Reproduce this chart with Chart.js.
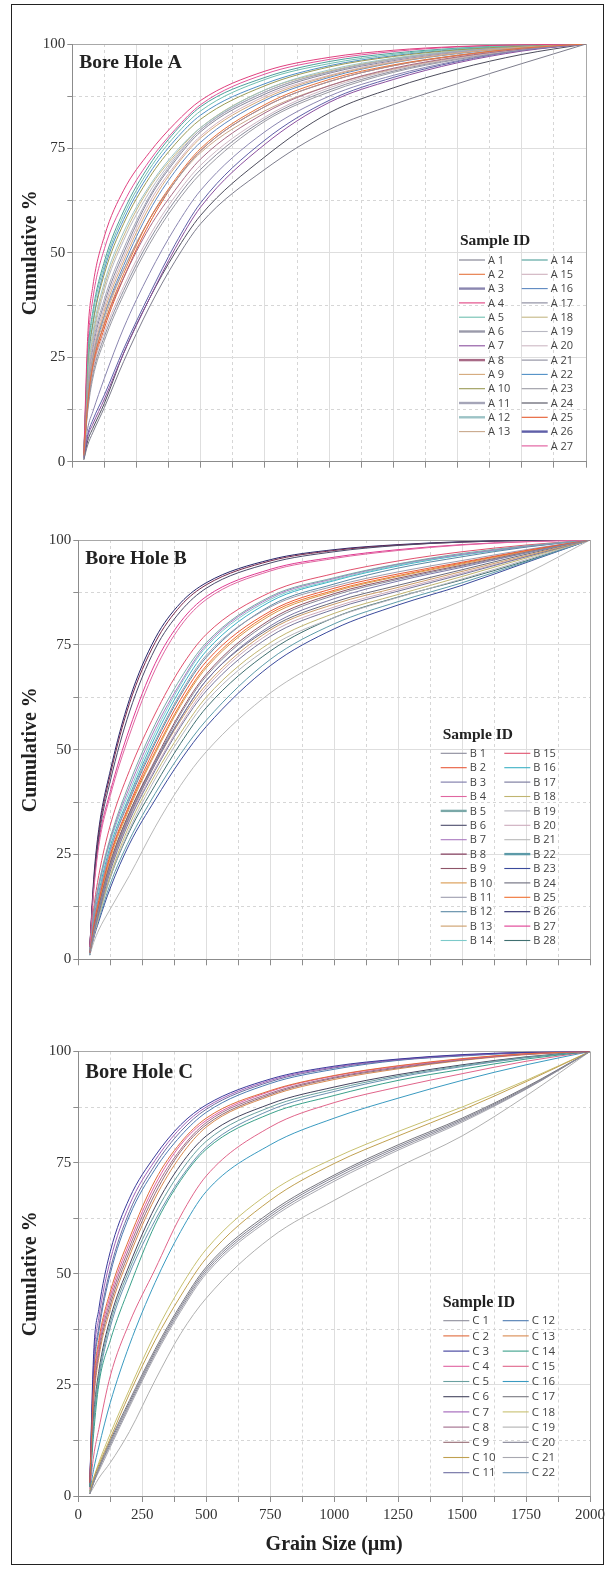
<!DOCTYPE html>
<html>
<head>
<meta charset="utf-8">
<script src="https://cdn.jsdelivr.net/npm/chart.js@4.4.1/dist/chart.umd.min.js"></script>
<style>
  body { margin: 0; background: #fff; }
  #page { position: relative; width: 611px; height: 1569px; overflow: hidden; }
  #frame { position: absolute; left: 11px; top: 4px; width: 593px; height: 1561px; border: 1.5px solid #222; box-sizing: border-box; }
  canvas { position: absolute; left: 0; }
</style>
</head>
<body>
<div id="page">
  <div id="frame"></div>
  <canvas id="chartA" width="611" height="500" style="top:0px"></canvas>
  <canvas id="chartB" width="611" height="500" style="top:500px"></canvas>
  <canvas id="chartC" width="611" height="569" style="top:1000px"></canvas>
</div>
<script>
// grain size (µm) at which each curve was read
const grainSize = [45, 60, 80, 125, 200, 300, 400, 500, 750, 1000, 1250, 1500, 1750, 2000];

// ---- Bore hole A ----
const samplesA = ['A 1','A 2','A 3','A 4','A 5','A 6','A 7','A 8','A 9','A 10','A 11','A 12','A 13',
                  'A 14','A 15','A 16','A 17','A 18','A 19','A 20','A 21','A 22','A 23','A 24','A 25','A 26','A 27'];
const cumulativeA = [
  [0.5, 4, 7, 13, 24, 37, 48, 57, 70, 79.5, 85.5, 90.5, 95.3, 100],    // A 1
  [1.5, 14, 23, 33, 45, 58, 67.5, 75, 85.5, 91.5, 95, 97.3, 99, 100],  // A 2
  [1, 8, 12, 20, 32, 45, 56, 65, 79, 87.5, 92.5, 96, 98.5, 100],       // A 3
  [2, 30, 42, 54, 65, 74, 81, 86.5, 93.5, 96.8, 98.5, 99.4, 99.8, 100],// A 4
  [2, 24, 35, 47, 59, 70, 78, 84, 91.5, 95.3, 97.5, 98.9, 99.7, 100],  // A 5
  [1.5, 16, 25, 35, 46, 58, 67, 74.5, 85, 91, 94.8, 97.3, 99, 100],    // A 6
  [1, 6, 9, 15, 26, 39, 51, 61, 76, 86, 91.5, 95.5, 98.3, 100],        // A 7
  [1.5, 14, 23, 33, 44, 56, 65, 72.5, 83.5, 90, 94.2, 96.9, 98.8, 100],// A 8
  [1.5, 16, 25, 36, 48, 61, 70.5, 77.5, 87, 92.3, 95.6, 97.8, 99.2, 100], // A 9
  [2, 23, 33, 45, 57, 68, 76, 82, 90, 94.5, 97, 98.6, 99.5, 100],      // A 10
  [1.5, 18, 28, 39, 51, 63.5, 72.5, 79.5, 88.5, 93.3, 96.3, 98.2, 99.4, 100], // A 11
  [2, 21, 31, 43, 55, 66, 74, 80, 89, 93.8, 96.6, 98.4, 99.5, 100],    // A 12
  [1.5, 15, 24, 34, 46, 58, 67, 74, 84, 90, 94, 96.8, 98.8, 100],      // A 13
  [2, 25, 36, 48, 60, 71, 79, 85, 92, 95.8, 97.8, 99, 99.7, 100],      // A 14
  [1.5, 17, 26, 37, 49, 62, 71, 78, 87.5, 92.5, 95.8, 97.9, 99.3, 100],// A 15
  [1.5, 15, 24, 35, 47, 60, 69.5, 76.5, 86.5, 92, 95.5, 97.7, 99.2, 100], // A 16
  [1.5, 17, 27, 38, 50, 63, 72, 79, 88, 93, 96, 98, 99.3, 100],        // A 17
  [2, 20, 30, 42, 54, 65.5, 73.5, 80, 89, 93.5, 96.5, 98.3, 99.4, 100],// A 18
  [2, 19, 29, 41, 53, 64.5, 73, 79.5, 88.5, 93.3, 96.3, 98.2, 99.4, 100], // A 19
  [1.5, 14, 22, 31, 42, 54, 63.5, 71, 82.5, 89.5, 93.8, 96.6, 98.7, 100], // A 20
  [1.5, 13, 21, 30, 41, 53, 62.5, 70, 82, 89, 93.5, 96.5, 98.6, 100],  // A 21
  [2, 22, 33, 46, 58, 69, 77, 83, 90.5, 94.8, 97.2, 98.7, 99.6, 100],  // A 22
  [1.5, 12, 20, 29, 40, 52, 61.5, 69, 81.5, 88.5, 93.2, 96.3, 98.5, 100], // A 23
  [0.5, 5, 8, 14, 26, 39, 50, 59, 73, 83.5, 89.5, 94, 97.5, 100],      // A 24
  [1.5, 13, 22, 32, 44, 57, 67, 74.5, 85, 91, 94.8, 97.2, 99, 100],    // A 25
  [1, 6.5, 10, 16, 27, 40, 52, 62, 77, 86.5, 92, 95.8, 98.5, 100],     // A 26
  [2, 27, 39, 51, 62, 72, 79.5, 85.5, 92.8, 96.3, 98.2, 99.3, 99.8, 100] // A 27
];

// ---- Bore hole B ----
const samplesB = ['B 1','B 2','B 3','B 4','B 5','B 6','B 7','B 8','B 9','B 10','B 11','B 12','B 13','B 14',
                  'B 15','B 16','B 17','B 18','B 19','B 20','B 21','B 22','B 23','B 24','B 25','B 26','B 27','B 28'];
const cumulativeB = [
  [1.5, 6.5, 12, 22.5, 34.5, 47, 58.5, 67.5, 80.5, 86.8, 90.6, 93.8, 97, 100],   // B 1
  [1.5, 8, 14, 25, 37, 50.5, 62, 71, 83, 88.5, 91.9, 94.7, 97.5, 100],           // B 2
  [1.5, 6, 11.5, 22, 34, 46.5, 57.5, 66.5, 79.5, 86, 90.2, 93.5, 96.9, 100],     // B 3
  [3, 16, 27, 39, 53.5, 69, 79.5, 85.8, 92.6, 95.6, 97.5, 98.8, 99.6, 100],      // B 4
  [2, 11, 18, 29, 42, 56, 67, 75.5, 86.5, 91, 94.3, 96.8, 98.6, 100],            // B 5
  [3, 17, 29, 42.5, 59, 74, 83, 88.5, 94.5, 97.2, 98.7, 99.5, 99.9, 100],        // B 6
  [2, 10.5, 17.5, 28.5, 41, 55, 66, 75, 86.2, 90.8, 94.2, 96.6, 98.5, 100],      // B 7
  [3, 18, 30, 44, 61, 75.5, 84.3, 89.3, 95, 97.5, 98.8, 99.5, 99.9, 100],        // B 8
  [1.5, 7, 12.5, 23, 35, 47.5, 59, 68, 81, 87.2, 90.9, 94, 97.1, 100],           // B 9
  [1.5, 7, 13, 24, 36, 49, 60.5, 69.5, 82, 87.7, 91.3, 94.3, 97.3, 100],         // B 10
  [1.5, 8.5, 15, 26, 38.5, 52, 63.5, 72.5, 84, 89, 92.4, 95.1, 97.7, 100],       // B 11
  [2, 9, 15, 26, 38, 51.5, 63, 72, 84.3, 89.5, 93.3, 96, 98.3, 100],             // B 12
  [1.5, 6.5, 12, 22, 34, 46.5, 57, 65.5, 78.5, 84.7, 88.7, 92.5, 96.3, 100],     // B 13
  [2, 10, 17, 28, 40, 54, 65.5, 74.5, 85.8, 90.5, 94, 96.5, 98.5, 100],          // B 14
  [2.5, 12, 20, 32, 45, 58.5, 69.5, 77.5, 87.5, 92, 95, 97.2, 98.8, 100],        // B 15
  [2, 9.5, 16, 27, 39, 53, 64.5, 73.5, 85.3, 90.3, 93.8, 96.4, 98.4, 100],       // B 16
  [1.5, 6, 11, 21, 33, 45, 55.5, 64, 77, 83.5, 87.8, 91.8, 96, 100],             // B 17
  [1.5, 5.5, 10.5, 20, 32, 44, 54, 62.5, 75.5, 82.5, 87, 91.3, 95.7, 100],       // B 18
  [1.5, 5.5, 10, 19.5, 31, 43, 53, 61.5, 74.5, 81.5, 86.3, 90.7, 95.3, 100],     // B 19
  [1.5, 6, 11.5, 21.5, 33.5, 45.5, 56, 64.8, 77.8, 84, 88.2, 92.1, 96.1, 100],   // B 20
  [1, 4, 7, 12, 20, 31.5, 41.5, 49.5, 63.5, 72.5, 79.5, 85.5, 92, 100],          // B 21
  [1, 5.5, 9.5, 18, 28.5, 39.5, 49, 57, 71.5, 80, 85.3, 89.8, 94.8, 100],        // B 22
  [1, 5, 9, 17, 27.5, 38, 47.5, 55.5, 70, 78.8, 84.5, 89.2, 94.6, 100],          // B 23
  [1.5, 7, 12.5, 23, 35, 47, 57.5, 66.5, 79, 85.2, 89.2, 92.9, 96.6, 100],       // B 24
  [1.5, 7.5, 13.5, 24.5, 36.5, 49.5, 61, 70, 82.5, 88, 91.5, 94.5, 97.4, 100],   // B 25
  [3, 19, 31, 45, 62, 76.5, 85, 89.8, 95.3, 97.7, 98.9, 99.6, 99.9, 100],        // B 26
  [3, 17, 28, 40, 55, 70.5, 80.5, 86.5, 93, 95.9, 97.7, 98.9, 99.6, 100],        // B 27
  [1, 6, 10.5, 19.5, 30.5, 41.5, 51.5, 60, 73.5, 81.5, 86.4, 90.5, 95, 100]      // B 28
];

// ---- Bore hole C ----
const samplesC = ['C 1','C 2','C 3','C 4','C 5','C 6','C 7','C 8','C 9','C 10','C 11',
                  'C 12','C 13','C 14','C 15','C 16','C 17','C 18','C 19','C 20','C 21','C 22'];
const cumulativeC = [
  [0.5, 3, 6, 11.5, 20.5, 32, 42, 50.5, 62.8, 71.3, 78.2, 84.4, 91.6, 100],  // C 1
  [3, 25, 35, 46, 58, 71, 79.5, 85, 91.2, 94.6, 96.8, 98.4, 99.5, 100],      // C 2
  [3, 32, 42, 55, 67, 76.5, 83.5, 88, 93.8, 96.7, 98.3, 99.3, 99.8, 100],    // C 3
  [3, 24, 34, 45, 57, 70, 79, 84.5, 91, 94.5, 96.7, 98.3, 99.5, 100],        // C 4
  [2, 17, 27, 39, 51, 63.5, 73, 79.8, 87.5, 91.5, 94.5, 96.8, 98.7, 100],    // C 5
  [2, 18, 28, 40, 52, 65, 74.5, 81, 88.2, 92, 94.8, 97, 98.8, 100],          // C 6
  [3, 30, 40, 53, 65.5, 75.5, 82.8, 87.5, 93.5, 96.5, 98.2, 99.2, 99.8, 100],// C 7
  [3, 23, 33, 44, 56, 69, 78, 84, 90.6, 94.2, 96.5, 98.2, 99.4, 100],        // C 8
  [3, 22, 32, 43, 55, 68, 77.5, 83.5, 90.3, 94, 96.3, 98.1, 99.4, 100],      // C 9
  [1, 4, 7, 13, 23, 35, 45, 53.5, 66.5, 74.8, 81, 86.8, 93.2, 100],          // C 10
  [3, 28, 38, 51, 64, 74.5, 82, 87, 93.2, 96.3, 98.1, 99.1, 99.8, 100],      // C 11
  [3, 27, 37, 50, 63, 73.5, 81, 86.3, 92.8, 96, 98, 99, 99.7, 100],          // C 12
  [3, 21, 31, 42, 54, 67, 76.5, 83, 90, 93.7, 96.1, 98, 99.3, 100],          // C 13
  [2, 14, 25, 35, 47, 61, 71, 78, 86, 90.1, 93.5, 96, 98.3, 100],            // C 14
  [1.5, 9, 15, 27, 39, 51, 63, 72, 83, 88.5, 92, 95, 97.8, 100],             // C 15
  [1, 6, 11, 21, 34, 48, 59.5, 68.5, 79, 85, 89.5, 93.5, 97, 100],           // C 16
  [0.5, 3.5, 6.5, 12.5, 21.5, 33, 43, 51.5, 63.8, 72.2, 79, 85, 92, 100],    // C 17
  [1, 4, 7.5, 14, 24, 36.5, 47, 55.5, 68.3, 76, 82, 87.5, 93.5, 100],        // C 18
  [0.5, 2, 4, 7.5, 14.5, 26, 36.5, 44.5, 58, 66.5, 74, 81, 90, 100],         // C 19
  [0.5, 3, 6, 12, 21, 32.5, 42.5, 51, 63.3, 71.8, 78.6, 84.7, 91.8, 100],    // C 20
  [0.5, 3, 5.5, 11, 20, 31.5, 41.5, 50, 62.3, 70.8, 77.8, 84.1, 91.5, 100],  // C 21
  [2, 16, 26, 38, 50, 62, 71.5, 78.5, 86.8, 91, 94.2, 96.6, 98.6, 100]       // C 22
];

// line colours, in sample order
const coloursA = ['#7d7d8c','#e5743f','#8a86b0','#e0407f','#6fbfb0','#9a9aaa','#8a4f9e','#a86a86','#d4a87a',
  '#9a9a55','#a5a5b8','#9cc3c6','#c9a88c','#4d9f9a','#cfb0bd','#5b87c0','#86869a','#c4b784','#b8b8c2',
  '#cdb8c4','#8c8c9c','#4f8fc6','#9a9aa3','#4d4d5c','#e55a2e','#5f5fa8','#e0569a'];
const coloursB = ['#8a8a9a','#e85a3a','#7a78a8','#e066a0','#7aa8a8','#4a4a6a','#a978c0','#7a2a4e','#8e5468',
  '#d8984c','#9c9cae','#5a88a4','#cc9c68','#7ccaca','#e0506c','#3ab0c4','#74749a','#c0b470','#b4b4bc',
  '#ccaabc','#b8b8b8','#5c9aa8','#3a4a9c','#6a6a7a','#f07030','#26266a','#e03a92','#3f6f70'];
const coloursC = ['#8c8c9a','#e06a3a','#3a3a9a','#e060a0','#6aa0a0','#44445e','#a060b8','#a06a8a','#946a72',
  '#c0a050','#6c6ca0','#4c7ab0','#d88a50','#3aa08a','#e0648a','#3a9ac0','#787880','#c8c070','#b0b0b0',
  '#808090','#a8a8b0','#6a90b0'];
// legend swatches drawn thicker in the original
const thickSwatch = ['A 3','A 6','A 8','A 11','A 12','A 26','B 5','B 22'];

const SERIF = '"Liberation Serif", "Times New Roman", serif';

// "Bore Hole X" label inside the plot area
const boreTitle = {
  id: 'boreTitle',
  afterDraw(chart, args, o) {
    const ctx = chart.ctx, a = chart.chartArea;
    ctx.save();
    ctx.font = 'bold ' + o.size + 'px ' + SERIF;
    ctx.fillStyle = '#222';
    ctx.textBaseline = 'alphabetic';
    ctx.fillText(o.text, a.left + o.dx, a.top + o.dy);
    ctx.restore();
  }
};

// two-column "Sample ID" legend
const sampleLegend = {
  id: 'sampleLegend',
  afterDraw(chart, args, o) {
    const ctx = chart.ctx;
    const ds = chart.data.datasets;
    ctx.save();
    ctx.fillStyle = '#222';
    ctx.font = 'bold ' + o.titleSize + 'px ' + SERIF;
    ctx.textBaseline = 'alphabetic';
    ctx.fillText('Sample ID', o.titleX, o.titleY);
    ctx.font = o.fontSize + 'px "Open Sans", sans-serif';
    ctx.textBaseline = 'middle';
    ds.forEach((d, i) => {
      const col = i < o.perCol ? 0 : 1;
      const row = col ? i - o.perCol : i;
      const x = o.x + col * o.colGap;
      const y = o.y + row * o.rowH;
      ctx.strokeStyle = d.borderColor;
      ctx.lineWidth = thickSwatch.includes(d.label) ? 2.4 : 1.1;
      ctx.beginPath();
      ctx.moveTo(x, y);
      ctx.lineTo(x + o.swatch, y);
      ctx.stroke();
      ctx.fillStyle = '#444';
      ctx.fillText(d.label, x + o.swatch + 3, y + 0.5);
    });
    ctx.restore();
  }
};

function gridColour(c) {
  if (!c.tick) return '#dcdcdc';
  return c.tick.value % 250 === 0 ? '#dedede' : '#d6d6d6';
}

function makeChart(id, boreText, samples, values, colours, lay) {
  const datasets = samples.map((s, i) => ({
    label: s,
    data: grainSize.map((g, j) => ({ x: g, y: values[i][j] })),
    borderColor: colours[i],
    borderWidth: 1,
    pointRadius: 0,
    cubicInterpolationMode: 'monotone',
    fill: false
  }));

  return new Chart(document.getElementById(id), {
    type: 'line',
    data: { datasets },
    options: {
      responsive: false,
      animation: false,
      events: [],
      layout: { padding: { top: lay.top, right: lay.right, left: 0, bottom: 0 } },
      plugins: {
        legend: { display: false },
        tooltip: { enabled: false },
        boreTitle: { text: boreText, size: lay.boreSize, dx: 7, dy: lay.boreDy },
        sampleLegend: lay.legend
      },
      scales: {
        x: {
          type: 'linear',
          min: 0,
          max: 2000,
          afterFit: s => { s.height = lay.xHeight; },
          ticks: {
            stepSize: 125,
            autoSkip: false,
            maxRotation: 0,
            padding: 4,
            color: '#333',
            font: { family: SERIF, size: 15 },
            callback: v => (lay.showX && v % 250 === 0) ? v : ''
          },
          grid: {
            color: c => (c.tick && c.tick.value === 2000) ? '#a8a8a8' : gridColour(c),
            tickColor: '#8c8c8c',
            tickLength: 6
          },
          border: {
            color: '#8c8c8c',
            dash: c => (c.tick && c.tick.value % 250 !== 0 && c.tick.value !== 2000) ? [3, 3] : []
          },
          title: {
            display: lay.showX,
            text: 'Grain Size (µm)',
            color: '#222',
            font: { family: SERIF, size: 20, weight: 'bold' },
            padding: { bottom: lay.xTitlePad }
          }
        },
        y: {
          min: 0,
          max: 100,
          afterFit: s => { s.width = lay.yWidth; },
          ticks: {
            stepSize: 12.5,
            autoSkip: false,
            padding: 2,
            color: '#333',
            font: { family: SERIF, size: 15 },
            callback: v => v % 25 === 0 ? v : ''
          },
          grid: {
            color: c => (c.tick && c.tick.value === 100) ? '#a8a8a8' : (c.tick && c.tick.value % 25 === 0 ? '#dedede' : '#d6d6d6'),
            tickColor: '#8c8c8c',
            tickLength: 5
          },
          border: {
            color: '#8c8c8c',
            dash: c => (c.tick && c.tick.value % 25 !== 0) ? [3, 3] : []
          },
          title: {
            display: true,
            text: 'Cumulative %',
            color: '#222',
            font: { family: SERIF, size: 20, weight: 'bold' },
            padding: { top: 19 }
          }
        }
      }
    },
    plugins: [boreTitle, sampleLegend]
  });
}

makeChart('chartA', 'Bore Hole A', samplesA, cumulativeA, coloursA, {
  top: 44, right: 25, yWidth: 72.3, xHeight: 38.3, showX: false, xTitlePad: 0,
  boreSize: 19.5, boreDy: 24,
  legend: { titleX: 460, titleY: 245, titleSize: 15.5, x: 459, y: 260, rowH: 14.3, perCol: 13,
            colGap: 62.7, swatch: 26, fontSize: 11 }
});

makeChart('chartB', 'Bore Hole B', samplesB, cumulativeB, coloursB, {
  top: 40, right: 21, yWidth: 78.3, xHeight: 40.7, showX: false, xTitlePad: 0,
  boreSize: 19.5, boreDy: 24,
  legend: { titleX: 442.7, titleY: 238.5, titleSize: 15.5, x: 440.7, y: 253.3, rowH: 14.4, perCol: 14,
            colGap: 63.6, swatch: 26, fontSize: 11 }
});

makeChart('chartC', 'Bore Hole C', samplesC, cumulativeC, coloursC, {
  top: 51.5, right: 21, yWidth: 78.3, xHeight: 73, showX: true, xTitlePad: 12,
  boreSize: 20.5, boreDy: 26,
  legend: { titleX: 442.7, titleY: 307, titleSize: 16, x: 443.3, y: 320.7, rowH: 15.2, perCol: 11,
            colGap: 59.4, swatch: 26, fontSize: 11.5 }
});
</script>
</body>
</html>
